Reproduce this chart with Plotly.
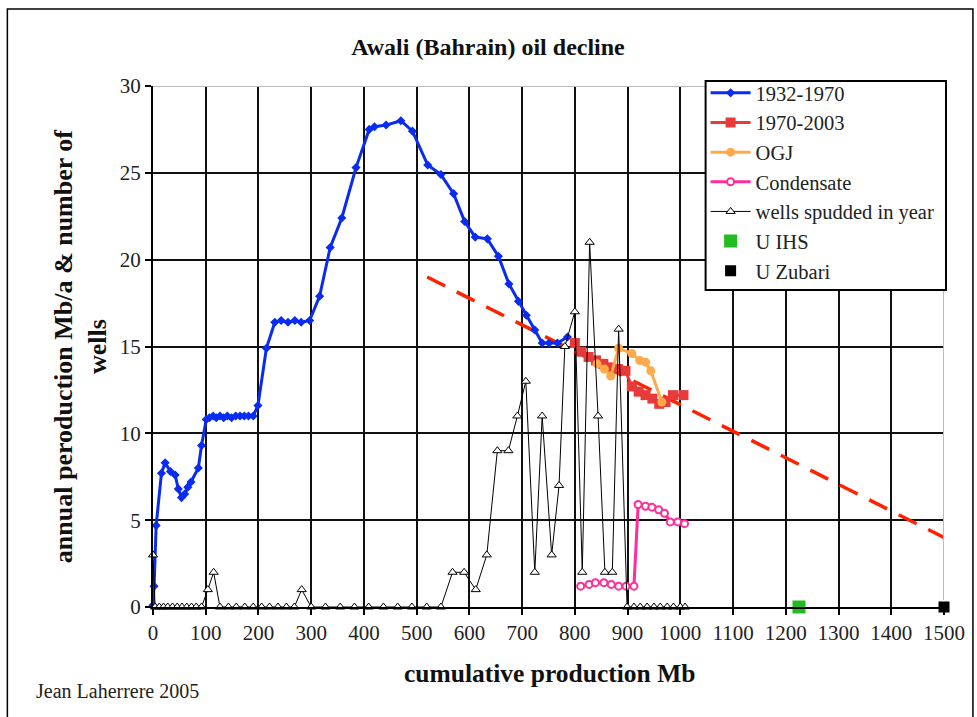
import plotly.graph_objects as go

# ---------------- data ----------------
blue_x = [0, 2, 6, 16, 23, 33, 42, 48, 54, 60, 66, 72, 86, 92, 101, 107, 114, 120, 127, 134, 141,
          149, 157, 165, 173, 181, 190, 199, 215, 231, 243, 256, 269, 281, 297, 316, 336, 358, 385,
          410, 420, 442, 470, 492, 521, 546, 570, 591, 611, 634, 655, 675, 693, 708, 724, 738, 751,
          767, 786]
blue_y = [0.1, 1.2, 4.7, 7.7, 8.3, 7.8, 7.6, 6.8, 6.3, 6.5, 6.9, 7.2, 8.0, 9.3, 10.8, 10.9, 11.0,
          10.9, 11.0, 10.9, 11.0, 10.9, 11.0, 11.0, 11.0, 11.0, 11.0, 11.6, 14.9, 16.4, 16.5, 16.4,
          16.5, 16.4, 16.5, 17.9, 20.7, 22.4, 25.3, 27.5, 27.65, 27.75, 28.0, 27.4, 25.45, 24.9,
          23.8, 22.2, 21.3, 21.2, 20.2, 18.6, 17.6, 16.8, 15.95, 15.2, 15.2, 15.2, 15.55]

red_x = [800, 812, 826, 840, 854, 868, 882, 896, 908, 921, 934, 947, 960, 972, 986, 1006]
red_y = [15.2, 14.7, 14.4, 14.2, 14.0, 13.8, 13.7, 13.6, 12.7, 12.4, 12.2, 12.0, 11.7, 11.8, 12.2, 12.2]

ogj_x = [842, 856, 868, 883, 908, 923, 934, 944, 965]
ogj_y = [14.0, 13.7, 13.3, 14.9, 14.6, 14.2, 14.1, 13.6, 11.8]

cond_x = [811, 827, 839, 855, 869, 883, 897, 912, 920, 934, 946, 959, 970, 981, 995, 1008]
cond_y = [1.2, 1.3, 1.4, 1.4, 1.3, 1.2, 1.2, 1.2, 5.9, 5.8, 5.75, 5.6, 5.4, 4.9, 4.9, 4.8]

wells_x = [0, 4, 12, 20, 28, 37, 46, 55, 64, 73, 82, 92, 104, 115, 127, 143, 158, 174, 190, 206,
           221, 237, 253, 268, 282, 300, 327, 355, 382, 409, 437, 464, 491, 519, 546, 568, 590,
           612, 633, 653, 674, 691, 707, 724, 738, 756, 770, 781, 800, 814, 828, 844, 857, 871,
           883, 899, 912, 924, 937, 950, 962, 975, 987, 1000, 1009]
wells_y = [3, 0, 0, 0, 0, 0, 0, 0, 0, 0, 0, 0, 1, 2, 0, 0, 0, 0, 0, 0,
           0, 0, 0, 0, 1, 0, 0, 0, 0, 0, 0, 0, 0, 0, 0, 2, 2,
           1, 3, 9, 9, 11, 13, 2, 11, 3, 7, 15, 17, 2, 21, 11, 2, 2,
           16, 0, 0, 0, 0, 0, 0, 0, 0, 0, 0]

trend_x = [520, 1500]
trend_y = [19.0, 4.0]

ihs_x, ihs_y = [1225], [0]
zubari_x, zubari_y = [1500], [0]

x_ticks = list(range(0, 1501, 100))
y_ticks = list(range(0, 31, 5))

# ---------------- layout geometry (pixels) ----------------
W, H = 977, 717
L, R, T, B = 153, 946, 86, 607
pw, ph = R - L, B - T


def px2x(px):
    return (px - L) / pw


def px2y(py):
    return (B - py) / ph


FONT = "Liberation Serif"

fig = go.Figure()

fig.add_trace(go.Scatter(x=trend_x, y=trend_y, mode="lines", showlegend=False,
                         line=dict(color="#FF2200", width=3.5, dash="20px,13px"),
                         hoverinfo="skip"))

fig.add_trace(go.Scatter(x=blue_x, y=blue_y, mode="lines+markers", name="1932-1970",
                         line=dict(color="#0A2BF0", width=3),
                         marker=dict(symbol="diamond", size=7, color="#0A2BF0"),
                         cliponaxis=False))
fig.add_trace(go.Scatter(x=red_x, y=red_y, mode="lines+markers", name="1970-2003",
                         line=dict(color="#E83A3A", width=3),
                         marker=dict(symbol="square", size=10, color="#E83A3A"),
                         cliponaxis=False))
fig.add_trace(go.Scatter(x=ogj_x, y=ogj_y, mode="lines+markers", name="OGJ",
                         line=dict(color="#FFAA4A", width=3),
                         marker=dict(symbol="circle", size=9, color="#FFAA4A"),
                         cliponaxis=False))
fig.add_trace(go.Scatter(x=cond_x, y=cond_y, mode="lines+markers", name="Condensate",
                         line=dict(color="#FF2E9A", width=3),
                         marker=dict(symbol="circle", size=7, color="white",
                                     line=dict(color="#FF2E9A", width=2)),
                         cliponaxis=False))
fig.add_trace(go.Scatter(x=wells_x, y=wells_y, mode="lines+markers", name="wells spudded in year",
                         line=dict(color="black", width=1),
                         marker=dict(symbol="triangle-up", size=8, color="white",
                                     line=dict(color="black", width=1)),
                         cliponaxis=False))
fig.add_trace(go.Scatter(x=ihs_x, y=ihs_y, mode="markers", name="U IHS",
                         marker=dict(symbol="square", size=13, color="#22BB22"),
                         cliponaxis=False))
fig.add_trace(go.Scatter(x=zubari_x, y=zubari_y, mode="markers", name="U Zubari",
                         marker=dict(symbol="square", size=11, color="black"),
                         cliponaxis=False))

axis_common = dict(showgrid=True, gridcolor="#111111", gridwidth=2,
                   showline=True, linecolor="black", linewidth=2,
                   ticks="outside", ticklen=6, tickwidth=2, tickcolor="black",
                   zeroline=False, fixedrange=True,
                   tickfont=dict(family=FONT, size=21, color="#222222"))

fig.update_xaxes(range=[0, 1500], tickvals=x_ticks, ticktext=[str(v) for v in x_ticks],
                 **axis_common)
fig.update_yaxes(range=[0, 30], tickvals=y_ticks, ticktext=[str(v) for v in y_ticks],
                 **axis_common)

shapes = [
    dict(type="line", xref="x", yref="y", x0=0, x1=1500, y0=30, y1=30,
         line=dict(color="#BBBBBB", width=2), layer="above"),
    dict(type="line", xref="x", yref="y", x0=1500, x1=1500, y0=0.4, y1=30,
         line=dict(color="#BBBBBB", width=2), layer="above"),
    # outer frame
    dict(type="rect", xref="paper", yref="paper",
         x0=px2x(7), x1=px2x(975), y0=px2y(722), y1=px2y(9),
         line=dict(color="black", width=1.5), layer="below"),
    # legend box
    dict(type="rect", xref="paper", yref="paper",
         x0=px2x(707), x1=px2x(948), y0=px2y(290), y1=px2y(81),
         fillcolor="white", line=dict(color="black", width=2), layer="above"),
]

annotations = [
    dict(text="<b>annual peroduction Mb/a & number of<br>wells</b>", textangle=-90,
         xref="paper", yref="paper", x=px2x(80), y=px2y(346), xanchor="center", yanchor="middle",
         showarrow=False, font=dict(family=FONT, size=26, color="#111111")),
    dict(text="<b>cumulative production Mb</b>", xref="paper", yref="paper",
         x=px2x(551), y=px2y(673), xanchor="center", yanchor="middle", showarrow=False,
         font=dict(family=FONT, size=25.5, color="#111111")),
    dict(text="Jean Laherrere 2005", xref="paper", yref="paper",
         x=px2x(34), y=px2y(691), xanchor="left", yanchor="middle", showarrow=False,
         font=dict(family=FONT, size=20, color="#222222")),
]

fig.update_layout(
    width=W, height=H,
    margin=dict(l=L, r=W - R, t=T, b=H - B),
    paper_bgcolor="white", plot_bgcolor="white",
    font=dict(family=FONT),
    title=dict(text="<b>Awali (Bahrain) oil decline</b>", x=488 / W, xanchor="center",
               y=1 - 47 / H, yanchor="middle", xref="container", yref="container",
               font=dict(family=FONT, size=24, color="#111111")),
    legend=dict(x=px2x(707), y=px2y(73), xanchor="left", yanchor="top",
                bgcolor="rgba(0,0,0,0)", borderwidth=0,
                font=dict(family=FONT, size=20.5, color="#222222"),
                itemwidth=40, tracegroupgap=0),
    shapes=shapes,
    annotations=annotations,
    showlegend=True,
)

fig.write_html("out.html", config={"displayModeBar": False},
               post_script="document.body.style.margin='0';document.body.style.overflow='hidden';")
